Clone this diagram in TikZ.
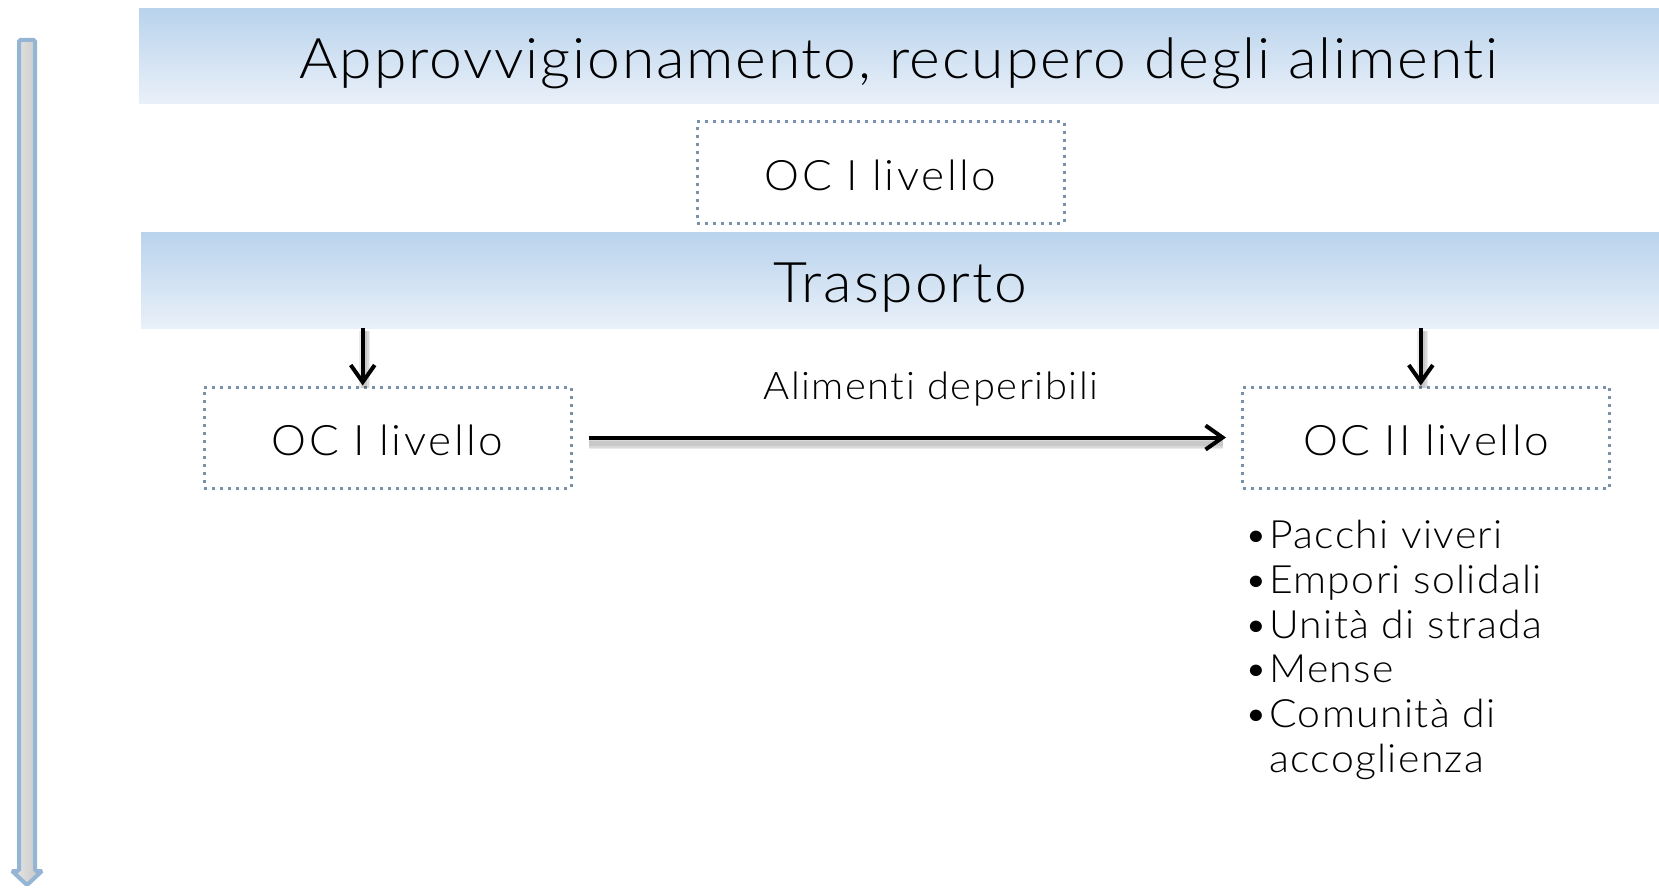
\documentclass[tikz,border=0pt]{standalone}
\usepackage{fontspec}
\setmainfont{Lato}[UprightFont=* Light, FakeStretch=1.05, LetterSpace=3.2, RawFeature=-liga]
\newfontfamily\ocfont{Lato}[UprightFont=* Light, FakeStretch=1.05, LetterSpace=6.2, RawFeature=-liga]
\newfontfamily\lblfont{Lato}[UprightFont=* Light, FakeStretch=1.05, LetterSpace=4, RawFeature=-liga]
\newfontfamily\listfont{Lato}[UprightFont=* Light, FakeStretch=1.05, LetterSpace=3.5, RawFeature=-liga]
\usetikzlibrary{arrows.meta,calc}
\definecolor{bantop}{RGB}{185,211,236}
\definecolor{banbot}{RGB}{233,240,249}
\definecolor{dotc}{RGB}{120,144,168}
\definecolor{bigborder}{RGB}{148,181,211}
\definecolor{bigleft}{RGB}{232,232,232}
\definecolor{bigright}{RGB}{196,196,196}
\newcommand{\lbul}{\makebox[19pt][l]{\hspace{-6pt}•}}
\tikzset{
  banner/.style={rectangle, top color=bantop, bottom color=banbot, draw=none,
    inner sep=0pt, font=\fontsize{56}{64}\selectfont, text=black},
  ocbox/.style={rectangle, draw=dotc, line width=3pt, dash pattern=on 3pt off 5pt,
    minimum width=367pt, minimum height=101pt, inner sep=0pt,
    font=\ocfont\fontsize{42}{50}\selectfont, text height=36pt, text depth=0pt},
  flow/.style={line width=4pt, -{Straight Barb[length=17pt,width=24pt]}},
  flowshadow/.style={line width=#1, draw=black, opacity=0.08},
  lbl/.style={font=\lblfont\fontsize{38}{44}\selectfont, inner sep=0pt},
  listtext/.style={font=\listfont\fontsize{39}{44.65}\selectfont, inner sep=0pt, align=left}
}
\begin{document}
\begin{tikzpicture}[x=1pt,y=-1pt]
\useasboundingbox (0,0) rectangle (1659,888);
% big vertical arrow at the left
\path[left color=bigleft, right color=bigright, draw=bigborder, line width=4pt, rounded corners=1.5pt]
  (19,40) -- (35,40) -- (35,871) -- (42,871) -- (27,885) -- (12,871) -- (19,871) -- cycle;
% banners
\node[banner, minimum width=1520pt, minimum height=95pt, text height=46pt, text depth=0pt] (b1) at (899,56)
  {Approvvigionamento, recupero degli alimenti};
\node[banner, minimum width=1518pt, minimum height=96pt, text height=44pt, text depth=0pt] (b2) at (900,280)
  {Trasporto};
% boxes
\node[ocbox] (top) at (880.5,172.5) {OC I livello};
\node[ocbox] (lbox) at (387.5,437.5) {OC I livello};
\node[ocbox] (rbox) at (1426,437.5) {OC II livello};
% arrow attach points
\coordinate (lt) at ($(lbox.north west)!0.433!(lbox.north east)$);
\coordinate (rt) at ($(rbox.north west)!0.486!(rbox.north east)$);
% soft shadows of the connectors
\foreach \w in {5pt,8pt,11pt}{
  \draw[flowshadow=\w] ($(b2.south -| lt)+(2,3)$) -- ($(lt)+(2,2)$);
  \draw[flowshadow=\w] ($(b2.south -| rt)+(2,3)$) -- ($(rt)+(2,2)$);
  \draw[flowshadow=\w, shorten <=16pt, shorten >=18pt] ($(lbox.east)+(0,6)$) -- ($(rbox.west)+(0,6)$);
}
% connectors
\draw[flow] (b2.south -| lt) -- (lt);
\draw[flow] (b2.south -| rt) -- (rt);
\draw[flow, shorten <=16pt, shorten >=15pt] (lbox.east) -- node[lbl, pos=0.536, anchor=base, yshift=38pt] (lab) {Alimenti deperibili} (rbox.west);
% list
\node[listtext, anchor=base west] (list) at (1250,772)
  {\lbul Pacchi viveri\\
   \lbul Empori solidali\\
   \lbul Unità di strada\\
   \lbul Mense\\
   \lbul Comunità di\\
   \hspace*{19pt}accoglienza};
\end{tikzpicture}
\end{document}
